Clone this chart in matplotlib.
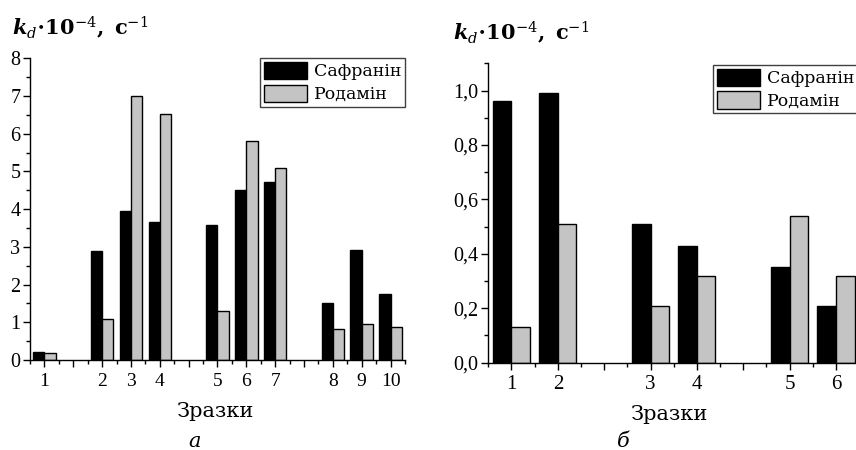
import numpy as np
import matplotlib
matplotlib.use('Agg')
import matplotlib.pyplot as plt
from matplotlib.ticker import MultipleLocator, FixedLocator, FuncFormatter

# ---------------------------------------------------------------------------
# Data (empty strings / None mark the blank slots between sample groups)
# ---------------------------------------------------------------------------
samples_a = ['1', '', '2', '3', '4', '', '5', '6', '7', '', '8', '9', '10']
safranin_a = [0.20, None, 2.90, 3.95, 3.67, None, 3.59, 4.50, 4.73, None, 1.52, 2.93, 1.76]
rhodamine_a = [0.18, None, 1.10, 7.00, 6.52, None, 1.30, 5.80, 5.10, None, 0.83, 0.95, 0.87]

samples_b = ['1', '2', '', '3', '4', '', '5', '6']
safranin_b = [0.96, 0.99, None, 0.51, 0.43, None, 0.35, 0.21]
rhodamine_b = [0.13, 0.51, None, 0.21, 0.32, None, 0.54, 0.32]

LEGEND_LABELS = ['Сафранін', 'Родамін']
YLABEL = r'$\mathbfit{k}_{\mathit{d}}\mathbf{\cdot10}^{-4}\mathbf{,\ с}^{-1}$'
XLABEL = 'Зразки'

# Styles
COLOR_SAF = '#000000'
COLOR_ROD = '#c4c4c4'
SERIF = 'DejaVu Serif'
TICKFONT = 'Liberation Serif'

plt.rcParams['mathtext.fontset'] = 'custom'
plt.rcParams['mathtext.rm'] = 'DejaVu Serif'
plt.rcParams['mathtext.it'] = 'DejaVu Serif:italic'
plt.rcParams['mathtext.bf'] = 'DejaVu Serif:bold'
plt.rcParams['mathtext.bfit'] = 'DejaVu Serif:italic:bold'


def to_arr(vals):
    return np.array([np.nan if v is None else v for v in vals], dtype=float)


def draw_panel(ax, samples, saf, rod, width, ymax, ymajor, yminor, yfmt, xfs, yfs):
    x = np.arange(1, len(samples) + 1)
    saf = to_arr(saf)
    rod = to_arr(rod)
    m = ~np.isnan(saf)
    ax.bar(x[m] - width / 2, saf[m], width, color=COLOR_SAF, edgecolor='black',
           linewidth=1, label=LEGEND_LABELS[0])
    m = ~np.isnan(rod)
    ax.bar(x[m] + width / 2, rod[m], width, color=COLOR_ROD, edgecolor='black',
           linewidth=1, label=LEGEND_LABELS[1])

    ax.set_xlim(0.5, len(samples) + 0.5)
    ax.set_ylim(0, ymax)
    ax.xaxis.set_major_locator(FixedLocator(x))
    ax.set_xticklabels(samples)
    ax.xaxis.set_minor_locator(MultipleLocator(0.5))
    ax.yaxis.set_major_locator(MultipleLocator(ymajor))
    ax.yaxis.set_minor_locator(MultipleLocator(yminor))
    ax.yaxis.set_major_formatter(FuncFormatter(yfmt))

    for s in ['top', 'right']:
        ax.spines[s].set_visible(False)
    for s in ['left', 'bottom']:
        ax.spines[s].set_linewidth(1)
    ax.tick_params(which='major', direction='out', length=5, width=1)
    ax.tick_params(which='minor', direction='out', length=3, width=1)
    ax.tick_params(axis='x', which='major', pad=4)
    ax.tick_params(axis='y', which='major', pad=2)
    for lab in ax.get_xticklabels():
        lab.set_fontfamily(TICKFONT)
        lab.set_fontsize(xfs)
    for lab in ax.get_yticklabels():
        lab.set_fontfamily(TICKFONT)
        lab.set_fontsize(yfs)


fig = plt.figure(figsize=(8.56, 4.5), dpi=100)

W, H = 856.0, 450.0
ax_a = fig.add_axes([30 / W, 1 - 360 / H, 375 / W, (360 - 58.3) / H])
ax_b = fig.add_axes([488.3 / W, 1 - 362.7 / H, (859.2 - 488.3) / W, (362.7 - 63.3) / H])

draw_panel(ax_a, samples_a, safranin_a, rhodamine_a, 0.39, 8, 1, 0.5,
           lambda v, p: f'{v:.0f}', 14, 14.5)
draw_panel(ax_b, samples_b, safranin_b, rhodamine_b, 0.40, 1.1, 0.2, 0.1,
           lambda v, p: f'{v:.1f}'.replace('.', ','), 15, 14.5)

leg_kw = dict(prop={'family': SERIF, 'size': 12.5}, fancybox=False, framealpha=1,
              edgecolor='#404040', handlelength=2.5, handleheight=1.15,
              labelspacing=0.25, borderpad=0.2, handletextpad=0.4)
la = ax_a.legend(loc='upper right', bbox_to_anchor=(1.0, 1.0), borderaxespad=0, **leg_kw)
lb = ax_b.legend(loc='upper left', bbox_to_anchor=(0.606, 0.994), borderaxespad=0, **leg_kw)
for leg in (la, lb):
    leg.get_frame().set_linewidth(1)

# Axis titles and panel letters
fig.text(12 / W, 1 - 35 / H, YLABEL, fontsize=15, va='baseline', ha='left')
fig.text(452.7 / W, 1 - 40 / H, YLABEL, fontsize=15, va='baseline', ha='left')
fig.text(215 / W, 1 - 417 / H, XLABEL, family=SERIF, fontsize=15, va='baseline', ha='center')
fig.text(670 / W, 1 - 420 / H, XLABEL, family=SERIF, fontsize=15, va='baseline', ha='center')
fig.text(195 / W, 1 - 447 / H, 'а', family=SERIF, style='italic', fontsize=15,
         va='baseline', ha='center')
fig.text(623 / W, 1 - 447 / H, 'б', family=SERIF, style='italic', fontsize=15,
         va='baseline', ha='center')

fig.savefig('out.png', dpi=100)
